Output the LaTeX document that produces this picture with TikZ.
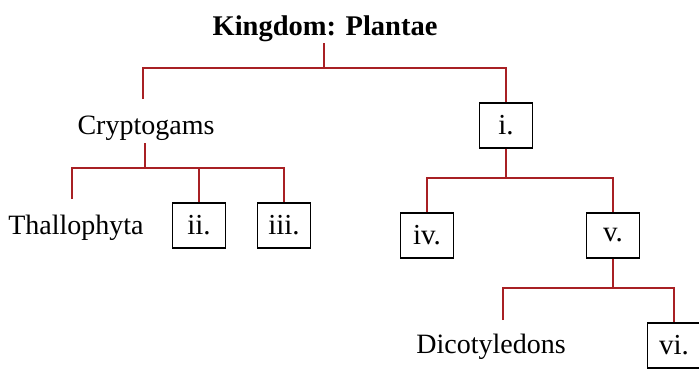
\documentclass[tikz,border=0pt]{standalone}
\usepackage{fontspec}
\setmainfont{Liberation Serif}
\definecolor{linkred}{RGB}{168,32,36}
\begin{document}
\begin{tikzpicture}[x=1pt,y=-1pt,
  lbl/.style={font=\fontsize{28}{30}\selectfont, inner sep=1pt, anchor=base},
  box/.style={draw=black, line width=1.2pt, minimum width=53pt, minimum height=45pt,
              inner sep=0pt, font=\fontsize{29}{30}\selectfont},
  link/.style={draw=linkred, line width=1.6pt}]
\useasboundingbox (0,0) rectangle (699,369);
% nodes
\node[lbl, font=\fontsize{28.5}{30}\selectfont\bfseries] (K) at (325,36) {Kingdom: Plantae};
\node[lbl] (C) at (146,134) {Cryptogams};
\node[lbl] (T) at (76,234) {Thallophyta};
\node[lbl] (D) at (491,353) {Dicotyledons};
\node[box] (b1) at (506,125.5) {i.};
\node[box] (b2) at (199,225.5) {ii.};
\node[box] (b3) at (284,225.5) {iii.};
\node[box] (b4) at (427,235.5) {iv.};
\node[box] (b5) at (613,235.5) {v.};
\node[box] (b6) at (674,345.5) {vi.};
% junctions
\coordinate (kj) at (324,68);
\coordinate (cj) at (145,168);
\coordinate (ij) at (506,178);
\coordinate (vj) at (613,288);
\coordinate (ctop) at (143,99);
\coordinate (ttop) at (72,199);
\coordinate (dtop) at (503,320);
% connectors
\draw[link] (K.south -| kj) -- (kj);
\draw[link] (ctop) |- (kj) -| (b1.north);
\draw[link] ([yshift=-2pt]C.south -| cj) -- (cj);
\draw[link] (ttop) |- (cj) -| (b3.north);
\draw[link] (b2.north) -- (b2.north |- cj);
\draw[link] (b1.south) -- (ij);
\draw[link] (b4.north) |- (ij) -| (b5.north);
\draw[link] (b5.south) -- (vj);
\draw[link] (dtop) |- (vj) -| (b6.north);
\end{tikzpicture}
\end{document}
